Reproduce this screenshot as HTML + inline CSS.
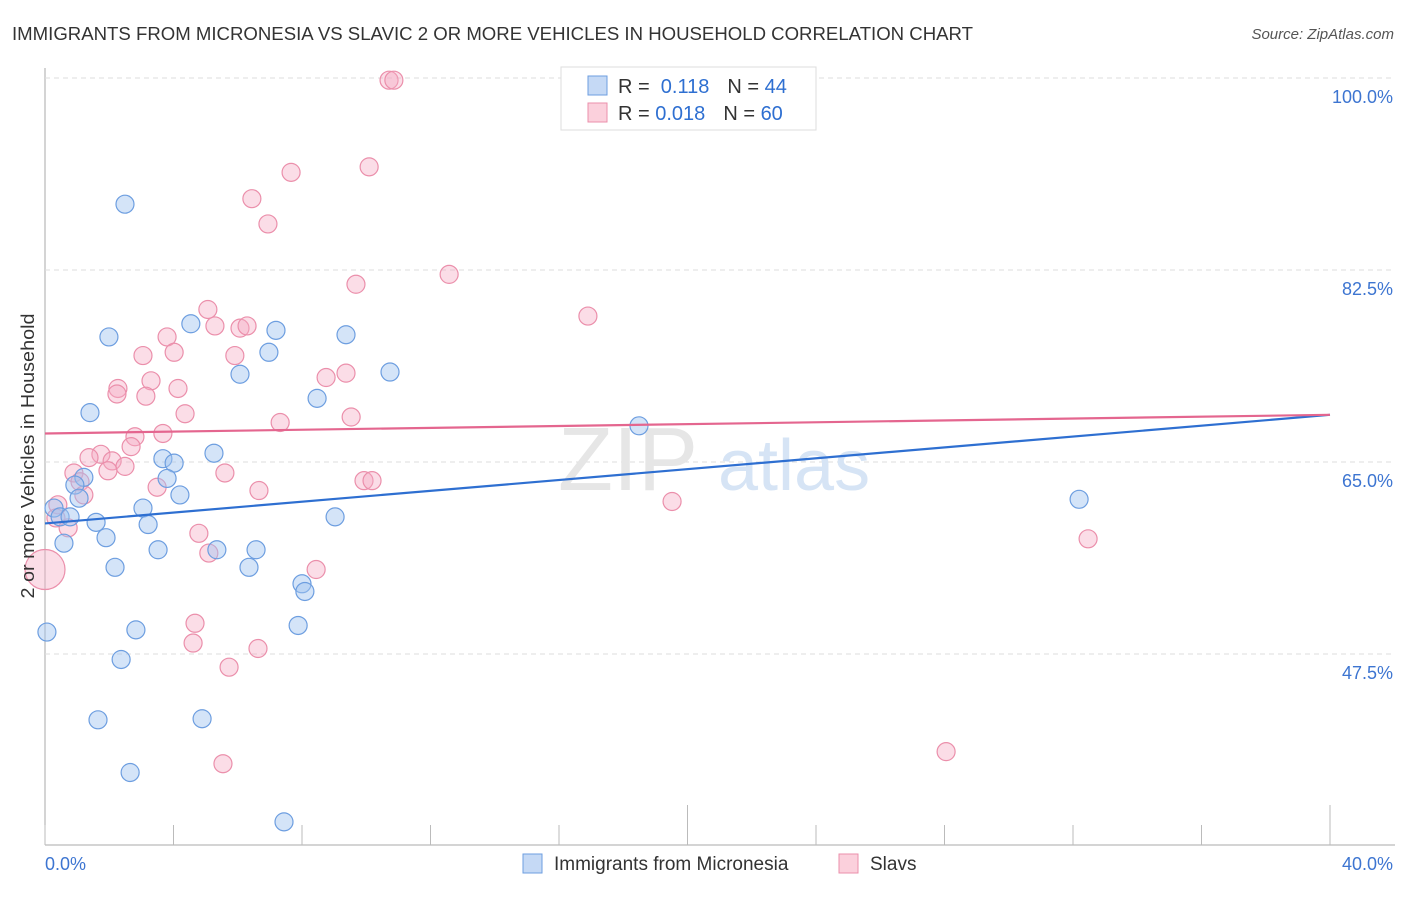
<!DOCTYPE html>
<html><head><meta charset="utf-8"><style>
body{margin:0;background:#fff;font-family:"Liberation Sans",sans-serif}
svg text{font-family:"Liberation Sans",sans-serif}
</style></head><body>
<svg width="1406" height="892" viewBox="0 0 1406 892">
<text x="12" y="40" font-size="18" fill="#333" textLength="961" lengthAdjust="spacingAndGlyphs">IMMIGRANTS FROM MICRONESIA VS SLAVIC 2 OR MORE VEHICLES IN HOUSEHOLD CORRELATION CHART</text>
<text x="1394" y="39" font-size="15" fill="#555" font-style="italic" text-anchor="end">Source: ZipAtlas.com</text>
<g id="grid"></g>
<text x="558" y="490" font-size="90" fill="#e6e6e6" font-family="Liberation Serif">ZIP</text>
<text x="718" y="490" font-size="72" fill="#d6e4f5">atlas</text>
<g id="pts"></g>
<g id="lines"></g>
<text transform="translate(34,456) rotate(-90)" font-size="18" fill="#333" text-anchor="middle" textLength="285" lengthAdjust="spacingAndGlyphs">2 or more Vehicles in Household</text>
<g>
<rect x="561" y="67" width="255" height="63" fill="#fff" stroke="#ddd"/>
<rect x="588" y="76" width="19" height="19" fill="#c5d9f5" stroke="#6d9ee0"/>
<rect x="588" y="103" width="19" height="19" fill="#fbd0dc" stroke="#eb8fab"/>
<text x="618" y="93" font-size="20" fill="#333">R = <tspan fill="#2e6fd1">&#160;0.118</tspan><tspan dx="18">N = </tspan><tspan fill="#2e6fd1">44</tspan></text>
<text x="618" y="120" font-size="20" fill="#333">R = <tspan fill="#2e6fd1">0.018</tspan><tspan dx="18">N = </tspan><tspan fill="#2e6fd1">60</tspan></text>
</g>
<text x="45" y="870" font-size="18" fill="#3d75d1">0.0%</text>
<text x="1393" y="870" font-size="18" fill="#3d75d1" text-anchor="end">40.0%</text>
<rect x="523" y="854" width="19" height="19" fill="#c5d9f5" stroke="#6d9ee0"/>
<text x="554" y="870" font-size="19" fill="#333">Immigrants from Micronesia</text>
<rect x="839" y="854" width="19" height="19" fill="#fbd0dc" stroke="#eb8fab"/>
<text x="870" y="870" font-size="19" fill="#333">Slavs</text>
</svg>
<script>
const yTicks=[100,82.5,65,47.5];
const yTickLabels=["100.0%","82.5%","65.0%","47.5%"];
const blueX=[2.49,1.99,4.54,7.19,9.37,6.97,6.07,10.74,8.47,1.40,18.49,5.26,3.67,4.02,3.80,1.21,0.93,1.06,4.20,32.19,0.28,3.05,0.47,0.78,1.59,3.21,9.03,0.59,1.90,3.52,5.35,6.57,2.18,6.35,8.00,8.09,7.88,0.06,2.83,2.37,1.65,4.89,2.65,7.44];
const blueY=[88.5,76.4,77.6,77.0,76.6,75.0,73.0,73.2,70.8,69.5,68.3,65.8,65.3,64.9,63.5,63.6,62.9,61.7,62.0,61.6,60.8,60.8,60.0,60.0,59.5,59.3,60.0,57.6,58.1,57.0,57.0,57.0,55.4,55.4,53.9,53.2,50.1,49.5,49.7,47.0,41.5,41.6,36.7,32.2];
const pinkX=[10.71,10.86,7.66,10.09,6.44,6.94,12.58,9.68,16.90,5.07,3.80,5.29,6.07,6.29,3.05,4.02,5.91,3.30,8.75,9.37,2.27,2.24,3.14,4.14,4.36,9.53,7.32,3.67,2.80,2.68,1.74,1.37,2.09,2.49,1.96,0.90,5.60,1.09,3.49,9.93,10.18,6.66,1.21,19.52,0.40,0.34,0.72,4.79,32.47,5.10,0.0,8.44,4.67,4.61,6.63,5.73,5.54,28.05];
const pinkY=[99.8,99.8,91.4,91.9,89.0,86.7,82.1,81.2,78.3,78.9,76.4,77.4,77.2,77.4,74.7,75.0,74.7,72.4,72.7,73.1,71.7,71.2,71.0,71.7,69.4,69.1,68.6,67.6,67.3,66.4,65.7,65.4,65.1,64.6,64.2,64.0,64.0,63.2,62.7,63.3,63.3,62.4,62.0,61.4,61.1,59.9,59.0,58.5,58.0,56.7,55.2,55.2,50.3,48.5,48.0,46.3,37.5,38.6];
const blueTrend=[59.4,69.3];
const pinkTrend=[67.6,69.3];
const NS="http://www.w3.org/2000/svg";
const X=v=>45+v/40*1285;
const Y=v=>462-(v-65)*192/17.5;
function mk(tag,attrs,parent){const e=document.createElementNS(NS,tag);for(const k in attrs)e.setAttribute(k,attrs[k]);parent.appendChild(e);return e;}
const grid=document.getElementById('grid');
let ax=mk('line',{x1:45,y1:68,x2:45,y2:845,stroke:'#aaa'},grid);


let bx=mk('line',{x1:45,y1:845,x2:1395,y2:845,stroke:'#aaa'},grid);


yTicks.forEach((t,i)=>{
 const g=mk('line',{x1:45,y1:Y(t),x2:1395,y2:Y(t),stroke:'#ddd','stroke-dasharray':'5,4'},grid);
 
 
 const tx=mk('text',{x:1393,y:Y(t)+25,'font-size':18,fill:'#3d75d1','text-anchor':'end'},grid);
 tx.textContent=yTickLabels[i];
 
 
});
for(let i=0;i<=10;i++){
 const v=i*4;const tall=(i==5||i==10);
 const tk=mk('line',{x1:X(v),y1:tall?805:825,x2:X(v),y2:845,stroke:'#bbb'},grid);
 
 
}
const pts=document.getElementById('pts');
pinkX.forEach((x,i)=>{
 const r=(x===0&&pinkY[i]===55.2)?20:9;
 const c=mk('circle',{cx:X(x),cy:Y(pinkY[i]),r:r,fill:'rgba(246,170,195,0.4)',stroke:'#eb8fab','stroke-width':1.2},pts);
 
 
});
blueX.forEach((x,i)=>{
 const c=mk('circle',{cx:X(x),cy:Y(blueY[i]),r:9,fill:'rgba(160,195,240,0.45)',stroke:'#6d9ee0','stroke-width':1.2},pts);
 
 
});
const lines=document.getElementById('lines');
const bl=mk('line',{x1:X(0),y1:Y(blueTrend[0]),x2:X(40),y2:Y(blueTrend[1]),stroke:'#2e6fd1','stroke-width':2.2},lines);


const pl=mk('line',{x1:X(0),y1:Y(pinkTrend[0]),x2:X(40),y2:Y(pinkTrend[1]),stroke:'#e4668f','stroke-width':2.2},lines);


</script>
</body></html>
